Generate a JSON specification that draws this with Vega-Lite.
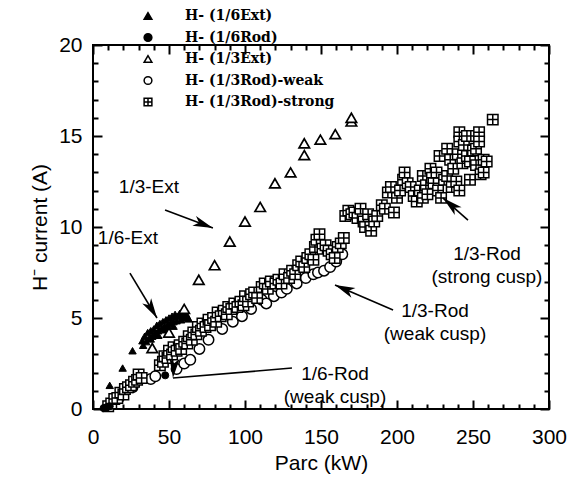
{
  "$schema": "https://vega.github.io/schema/vega-lite/v6.json",
  "width": 456,
  "height": 364,
  "autosize": {"type": "none"},
  "padding": {"left": 93, "top": 45, "right": 35, "bottom": 72},
  "background": "white",
  "config": {
    "view": {"stroke": "black", "strokeWidth": 2},
    "axis": {
      "labelFont": "Liberation Sans", "labelFontSize": 21, "labelColor": "black",
      "tickColor": "black", "tickWidth": 2, "titleFont": "Liberation Sans",
      "titleFontSize": 21, "titleFontWeight": "normal", "titleColor": "black",
      "grid": false, "domain": false, "labelFlush": false
    },
    "legend": {
      "labelFont": "DejaVu Serif", "labelFontWeight": "bold", "labelFontSize": 14,
      "labelColor": "black", "symbolStrokeWidth": 1.5,
      "symbolSize": 60, "rowPadding": 7.5, "labelOffset": 30, "padding": 0
    }
  },
  "datasets": {
    "points": [
      {"series": "H- (1/3Rod)-weak", "parc": 12, "current": 0.3},
      {"series": "H- (1/3Rod)-weak", "parc": 17, "current": 0.6},
      {"series": "H- (1/3Rod)-weak", "parc": 26, "current": 1.2},
      {"series": "H- (1/3Rod)-weak", "parc": 38, "current": 1.65},
      {"series": "H- (1/3Rod)-weak", "parc": 41, "current": 1.8},
      {"series": "H- (1/3Rod)-weak", "parc": 55, "current": 2.2},
      {"series": "H- (1/3Rod)-weak", "parc": 60, "current": 2.5},
      {"series": "H- (1/3Rod)-weak", "parc": 64, "current": 2.7},
      {"series": "H- (1/3Rod)-weak", "parc": 70, "current": 3.3},
      {"series": "H- (1/3Rod)-weak", "parc": 76, "current": 3.8},
      {"series": "H- (1/3Rod)-weak", "parc": 85, "current": 4.4},
      {"series": "H- (1/3Rod)-weak", "parc": 92, "current": 4.8},
      {"series": "H- (1/3Rod)-weak", "parc": 98, "current": 5.1},
      {"series": "H- (1/3Rod)-weak", "parc": 104, "current": 5.5},
      {"series": "H- (1/3Rod)-weak", "parc": 111, "current": 6.0},
      {"series": "H- (1/3Rod)-weak", "parc": 114, "current": 5.8},
      {"series": "H- (1/3Rod)-weak", "parc": 119, "current": 6.2},
      {"series": "H- (1/3Rod)-weak", "parc": 124, "current": 6.4},
      {"series": "H- (1/3Rod)-weak", "parc": 127.5, "current": 6.6},
      {"series": "H- (1/3Rod)-weak", "parc": 134, "current": 6.9},
      {"series": "H- (1/3Rod)-weak", "parc": 140, "current": 7.2},
      {"series": "H- (1/3Rod)-weak", "parc": 145, "current": 7.4},
      {"series": "H- (1/3Rod)-weak", "parc": 148, "current": 7.5},
      {"series": "H- (1/3Rod)-weak", "parc": 152, "current": 7.6},
      {"series": "H- (1/3Rod)-weak", "parc": 156, "current": 7.8},
      {"series": "H- (1/3Rod)-weak", "parc": 160, "current": 8.1},
      {"series": "H- (1/3Rod)-weak", "parc": 164, "current": 8.5},

      {"series": "H- (1/3Rod)-strong", "parc": 10, "current": 0.15},
      {"series": "H- (1/3Rod)-strong", "parc": 12, "current": 0.3},
      {"series": "H- (1/3Rod)-strong", "parc": 14, "current": 0.55},
      {"series": "H- (1/3Rod)-strong", "parc": 16, "current": 0.6},
      {"series": "H- (1/3Rod)-strong", "parc": 18, "current": 0.9},
      {"series": "H- (1/3Rod)-strong", "parc": 20, "current": 0.8},
      {"series": "H- (1/3Rod)-strong", "parc": 21, "current": 1.1},
      {"series": "H- (1/3Rod)-strong", "parc": 23, "current": 1.2},
      {"series": "H- (1/3Rod)-strong", "parc": 25, "current": 1.3},
      {"series": "H- (1/3Rod)-strong", "parc": 27, "current": 1.5},
      {"series": "H- (1/3Rod)-strong", "parc": 29, "current": 1.6},
      {"series": "H- (1/3Rod)-strong", "parc": 30, "current": 1.9},
      {"series": "H- (1/3Rod)-strong", "parc": 32, "current": 1.7},
      {"series": "H- (1/3Rod)-strong", "parc": 44, "current": 2.4},
      {"series": "H- (1/3Rod)-strong", "parc": 46, "current": 2.6},
      {"series": "H- (1/3Rod)-strong", "parc": 47, "current": 2.9},
      {"series": "H- (1/3Rod)-strong", "parc": 49, "current": 2.8},
      {"series": "H- (1/3Rod)-strong", "parc": 50, "current": 3.2},
      {"series": "H- (1/3Rod)-strong", "parc": 52, "current": 3.0},
      {"series": "H- (1/3Rod)-strong", "parc": 53, "current": 3.4},
      {"series": "H- (1/3Rod)-strong", "parc": 55, "current": 3.2},
      {"series": "H- (1/3Rod)-strong", "parc": 57, "current": 3.5},
      {"series": "H- (1/3Rod)-strong", "parc": 58, "current": 3.3},
      {"series": "H- (1/3Rod)-strong", "parc": 60, "current": 3.7},
      {"series": "H- (1/3Rod)-strong", "parc": 62, "current": 3.6},
      {"series": "H- (1/3Rod)-strong", "parc": 63, "current": 4.0},
      {"series": "H- (1/3Rod)-strong", "parc": 65, "current": 3.8},
      {"series": "H- (1/3Rod)-strong", "parc": 66, "current": 4.2},
      {"series": "H- (1/3Rod)-strong", "parc": 68, "current": 4.1},
      {"series": "H- (1/3Rod)-strong", "parc": 69, "current": 4.5},
      {"series": "H- (1/3Rod)-strong", "parc": 71, "current": 4.3},
      {"series": "H- (1/3Rod)-strong", "parc": 72, "current": 4.7},
      {"series": "H- (1/3Rod)-strong", "parc": 74, "current": 4.5},
      {"series": "H- (1/3Rod)-strong", "parc": 76, "current": 4.9},
      {"series": "H- (1/3Rod)-strong", "parc": 77, "current": 4.6},
      {"series": "H- (1/3Rod)-strong", "parc": 79, "current": 5.0},
      {"series": "H- (1/3Rod)-strong", "parc": 81, "current": 4.8},
      {"series": "H- (1/3Rod)-strong", "parc": 82, "current": 5.3},
      {"series": "H- (1/3Rod)-strong", "parc": 84, "current": 5.1},
      {"series": "H- (1/3Rod)-strong", "parc": 86, "current": 5.4},
      {"series": "H- (1/3Rod)-strong", "parc": 88, "current": 5.2},
      {"series": "H- (1/3Rod)-strong", "parc": 89, "current": 5.6},
      {"series": "H- (1/3Rod)-strong", "parc": 91, "current": 5.5},
      {"series": "H- (1/3Rod)-strong", "parc": 93, "current": 5.8},
      {"series": "H- (1/3Rod)-strong", "parc": 95, "current": 5.6},
      {"series": "H- (1/3Rod)-strong", "parc": 97, "current": 5.9},
      {"series": "H- (1/3Rod)-strong", "parc": 99, "current": 5.7},
      {"series": "H- (1/3Rod)-strong", "parc": 100, "current": 6.2},
      {"series": "H- (1/3Rod)-strong", "parc": 102, "current": 5.9},
      {"series": "H- (1/3Rod)-strong", "parc": 104, "current": 6.3},
      {"series": "H- (1/3Rod)-strong", "parc": 106, "current": 6.4},
      {"series": "H- (1/3Rod)-strong", "parc": 108, "current": 6.1},
      {"series": "H- (1/3Rod)-strong", "parc": 111, "current": 6.7},
      {"series": "H- (1/3Rod)-strong", "parc": 113, "current": 6.9},
      {"series": "H- (1/3Rod)-strong", "parc": 115, "current": 6.6},
      {"series": "H- (1/3Rod)-strong", "parc": 117, "current": 7.0},
      {"series": "H- (1/3Rod)-strong", "parc": 120, "current": 6.9},
      {"series": "H- (1/3Rod)-strong", "parc": 122, "current": 7.1},
      {"series": "H- (1/3Rod)-strong", "parc": 124, "current": 6.9},
      {"series": "H- (1/3Rod)-strong", "parc": 126, "current": 7.4},
      {"series": "H- (1/3Rod)-strong", "parc": 129, "current": 7.2},
      {"series": "H- (1/3Rod)-strong", "parc": 131, "current": 7.6},
      {"series": "H- (1/3Rod)-strong", "parc": 133, "current": 7.4},
      {"series": "H- (1/3Rod)-strong", "parc": 135, "current": 7.9},
      {"series": "H- (1/3Rod)-strong", "parc": 137, "current": 8.1},
      {"series": "H- (1/3Rod)-strong", "parc": 139, "current": 7.8},
      {"series": "H- (1/3Rod)-strong", "parc": 141, "current": 8.3},
      {"series": "H- (1/3Rod)-strong", "parc": 143, "current": 8.5},
      {"series": "H- (1/3Rod)-strong", "parc": 145, "current": 8.2},
      {"series": "H- (1/3Rod)-strong", "parc": 146, "current": 8.9},
      {"series": "H- (1/3Rod)-strong", "parc": 147, "current": 9.3},
      {"series": "H- (1/3Rod)-strong", "parc": 149, "current": 9.6},
      {"series": "H- (1/3Rod)-strong", "parc": 151, "current": 8.8},
      {"series": "H- (1/3Rod)-strong", "parc": 153, "current": 9.0},
      {"series": "H- (1/3Rod)-strong", "parc": 155, "current": 8.7},
      {"series": "H- (1/3Rod)-strong", "parc": 157, "current": 8.5},
      {"series": "H- (1/3Rod)-strong", "parc": 159, "current": 8.3},
      {"series": "H- (1/3Rod)-strong", "parc": 161, "current": 8.9},
      {"series": "H- (1/3Rod)-strong", "parc": 163, "current": 9.1},
      {"series": "H- (1/3Rod)-strong", "parc": 165, "current": 9.4},
      {"series": "H- (1/3Rod)-strong", "parc": 166, "current": 10.6},
      {"series": "H- (1/3Rod)-strong", "parc": 168, "current": 10.9},
      {"series": "H- (1/3Rod)-strong", "parc": 170, "current": 10.7},
      {"series": "H- (1/3Rod)-strong", "parc": 172, "current": 10.8},
      {"series": "H- (1/3Rod)-strong", "parc": 174, "current": 10.5},
      {"series": "H- (1/3Rod)-strong", "parc": 176, "current": 11.0},
      {"series": "H- (1/3Rod)-strong", "parc": 178, "current": 10.3},
      {"series": "H- (1/3Rod)-strong", "parc": 179, "current": 10.0},
      {"series": "H- (1/3Rod)-strong", "parc": 181, "current": 10.7},
      {"series": "H- (1/3Rod)-strong", "parc": 183, "current": 9.8},
      {"series": "H- (1/3Rod)-strong", "parc": 185, "current": 10.3},
      {"series": "H- (1/3Rod)-strong", "parc": 187, "current": 10.6},
      {"series": "H- (1/3Rod)-strong", "parc": 190, "current": 11.2},
      {"series": "H- (1/3Rod)-strong", "parc": 192, "current": 11.0},
      {"series": "H- (1/3Rod)-strong", "parc": 194, "current": 11.9},
      {"series": "H- (1/3Rod)-strong", "parc": 196, "current": 12.2},
      {"series": "H- (1/3Rod)-strong", "parc": 198, "current": 10.8},
      {"series": "H- (1/3Rod)-strong", "parc": 200, "current": 11.6},
      {"series": "H- (1/3Rod)-strong", "parc": 202, "current": 12.0},
      {"series": "H- (1/3Rod)-strong", "parc": 204, "current": 12.6},
      {"series": "H- (1/3Rod)-strong", "parc": 205, "current": 13.0},
      {"series": "H- (1/3Rod)-strong", "parc": 207, "current": 12.4},
      {"series": "H- (1/3Rod)-strong", "parc": 209, "current": 12.2},
      {"series": "H- (1/3Rod)-strong", "parc": 211, "current": 11.7},
      {"series": "H- (1/3Rod)-strong", "parc": 213, "current": 11.4},
      {"series": "H- (1/3Rod)-strong", "parc": 215, "current": 12.0},
      {"series": "H- (1/3Rod)-strong", "parc": 217, "current": 12.8},
      {"series": "H- (1/3Rod)-strong", "parc": 217, "current": 11.6},
      {"series": "H- (1/3Rod)-strong", "parc": 219, "current": 12.3},
      {"series": "H- (1/3Rod)-strong", "parc": 220, "current": 11.8},
      {"series": "H- (1/3Rod)-strong", "parc": 222, "current": 13.2},
      {"series": "H- (1/3Rod)-strong", "parc": 223, "current": 12.7},
      {"series": "H- (1/3Rod)-strong", "parc": 224, "current": 12.4},
      {"series": "H- (1/3Rod)-strong", "parc": 226, "current": 13.0},
      {"series": "H- (1/3Rod)-strong", "parc": 227, "current": 12.0},
      {"series": "H- (1/3Rod)-strong", "parc": 228, "current": 13.9},
      {"series": "H- (1/3Rod)-strong", "parc": 229, "current": 11.6},
      {"series": "H- (1/3Rod)-strong", "parc": 231, "current": 12.6},
      {"series": "H- (1/3Rod)-strong", "parc": 233, "current": 14.3},
      {"series": "H- (1/3Rod)-strong", "parc": 233, "current": 12.8},
      {"series": "H- (1/3Rod)-strong", "parc": 235, "current": 13.7},
      {"series": "H- (1/3Rod)-strong", "parc": 236, "current": 12.2},
      {"series": "H- (1/3Rod)-strong", "parc": 237, "current": 13.2},
      {"series": "H- (1/3Rod)-strong", "parc": 239, "current": 12.5},
      {"series": "H- (1/3Rod)-strong", "parc": 240, "current": 14.0},
      {"series": "H- (1/3Rod)-strong", "parc": 241, "current": 15.2},
      {"series": "H- (1/3Rod)-strong", "parc": 241, "current": 14.7},
      {"series": "H- (1/3Rod)-strong", "parc": 241, "current": 12.0},
      {"series": "H- (1/3Rod)-strong", "parc": 243, "current": 13.5},
      {"series": "H- (1/3Rod)-strong", "parc": 244, "current": 14.5},
      {"series": "H- (1/3Rod)-strong", "parc": 246, "current": 15.0},
      {"series": "H- (1/3Rod)-strong", "parc": 246, "current": 13.9},
      {"series": "H- (1/3Rod)-strong", "parc": 248, "current": 13.6},
      {"series": "H- (1/3Rod)-strong", "parc": 248, "current": 12.6},
      {"series": "H- (1/3Rod)-strong", "parc": 250, "current": 14.2},
      {"series": "H- (1/3Rod)-strong", "parc": 252, "current": 15.0},
      {"series": "H- (1/3Rod)-strong", "parc": 252, "current": 14.3},
      {"series": "H- (1/3Rod)-strong", "parc": 252, "current": 13.4},
      {"series": "H- (1/3Rod)-strong", "parc": 254, "current": 15.2},
      {"series": "H- (1/3Rod)-strong", "parc": 254, "current": 14.7},
      {"series": "H- (1/3Rod)-strong", "parc": 255, "current": 12.9},
      {"series": "H- (1/3Rod)-strong", "parc": 257, "current": 13.7},
      {"series": "H- (1/3Rod)-strong", "parc": 257, "current": 13.0},
      {"series": "H- (1/3Rod)-strong", "parc": 259, "current": 13.6},
      {"series": "H- (1/3Rod)-strong", "parc": 263, "current": 15.9},

      {"series": "H- (1/6Ext)", "parc": 11, "current": 1.3},
      {"series": "H- (1/6Ext)", "parc": 19.5, "current": 2.25},
      {"series": "H- (1/6Ext)", "parc": 26, "current": 3.2},
      {"series": "H- (1/6Ext)", "parc": 32.5, "current": 3.75},
      {"series": "H- (1/6Ext)", "parc": 33, "current": 3.5},
      {"series": "H- (1/6Ext)", "parc": 34, "current": 4.0},
      {"series": "H- (1/6Ext)", "parc": 35, "current": 3.7},
      {"series": "H- (1/6Ext)", "parc": 36, "current": 4.2},
      {"series": "H- (1/6Ext)", "parc": 37, "current": 3.9},
      {"series": "H- (1/6Ext)", "parc": 38, "current": 4.3},
      {"series": "H- (1/6Ext)", "parc": 39, "current": 4.0},
      {"series": "H- (1/6Ext)", "parc": 40, "current": 4.4},
      {"series": "H- (1/6Ext)", "parc": 41, "current": 4.1},
      {"series": "H- (1/6Ext)", "parc": 42, "current": 4.6},
      {"series": "H- (1/6Ext)", "parc": 43, "current": 4.3},
      {"series": "H- (1/6Ext)", "parc": 44, "current": 4.7},
      {"series": "H- (1/6Ext)", "parc": 45, "current": 4.4},
      {"series": "H- (1/6Ext)", "parc": 46, "current": 4.8},
      {"series": "H- (1/6Ext)", "parc": 47, "current": 4.5},
      {"series": "H- (1/6Ext)", "parc": 48, "current": 4.9},
      {"series": "H- (1/6Ext)", "parc": 49, "current": 4.6},
      {"series": "H- (1/6Ext)", "parc": 50, "current": 5.0},
      {"series": "H- (1/6Ext)", "parc": 51, "current": 4.7},
      {"series": "H- (1/6Ext)", "parc": 52, "current": 5.1},
      {"series": "H- (1/6Ext)", "parc": 53, "current": 4.8},
      {"series": "H- (1/6Ext)", "parc": 54, "current": 5.2},
      {"series": "H- (1/6Ext)", "parc": 55, "current": 4.85},
      {"series": "H- (1/6Ext)", "parc": 56, "current": 5.1},
      {"series": "H- (1/6Ext)", "parc": 57, "current": 5.25},
      {"series": "H- (1/6Ext)", "parc": 58, "current": 4.9},
      {"series": "H- (1/6Ext)", "parc": 59, "current": 5.15},
      {"series": "H- (1/6Ext)", "parc": 60, "current": 5.0},
      {"series": "H- (1/6Ext)", "parc": 61, "current": 5.25},
      {"series": "H- (1/6Ext)", "parc": 62, "current": 5.1},
      {"series": "H- (1/6Ext)", "parc": 63, "current": 4.95},
      {"series": "H- (1/6Ext)", "parc": 38, "current": 3.85},
      {"series": "H- (1/6Ext)", "parc": 43, "current": 4.05},
      {"series": "H- (1/6Ext)", "parc": 48, "current": 4.35},
      {"series": "H- (1/6Ext)", "parc": 53, "current": 4.55},

      {"series": "H- (1/3Ext)", "parc": 39, "current": 3.35},
      {"series": "H- (1/3Ext)", "parc": 50, "current": 4.2},
      {"series": "H- (1/3Ext)", "parc": 60, "current": 5.5},
      {"series": "H- (1/3Ext)", "parc": 69.6, "current": 7.1},
      {"series": "H- (1/3Ext)", "parc": 80, "current": 7.9},
      {"series": "H- (1/3Ext)", "parc": 90, "current": 9.2},
      {"series": "H- (1/3Ext)", "parc": 100, "current": 10.3},
      {"series": "H- (1/3Ext)", "parc": 110, "current": 11.1},
      {"series": "H- (1/3Ext)", "parc": 119.7, "current": 12.4},
      {"series": "H- (1/3Ext)", "parc": 130, "current": 13.0},
      {"series": "H- (1/3Ext)", "parc": 139, "current": 13.95},
      {"series": "H- (1/3Ext)", "parc": 139, "current": 14.6},
      {"series": "H- (1/3Ext)", "parc": 149.6, "current": 14.8},
      {"series": "H- (1/3Ext)", "parc": 159.4, "current": 15.1},
      {"series": "H- (1/3Ext)", "parc": 170, "current": 15.8},
      {"series": "H- (1/3Ext)", "parc": 170, "current": 16.0},

      {"series": "H- (1/6Rod)", "parc": 7, "current": 0.05},
      {"series": "H- (1/6Rod)", "parc": 9, "current": 0.1},
      {"series": "H- (1/6Rod)", "parc": 11, "current": 0.15},
      {"series": "H- (1/6Rod)", "parc": 47.5, "current": 1.85}
    ],
    "arrows": [
      {"arrow": "a1", "parc": 24.3, "current": 7.47, "parc_end": 42.1, "current_end": 5.0},
      {"arrow": "a2", "parc": 47.4, "current": 10.93, "parc_end": 78.9, "current_end": 9.95},
      {"arrow": "a3", "parc": 246.7, "current": 10.38, "parc_end": 230.3, "current_end": 11.59},
      {"arrow": "a4", "parc": 197.4, "current": 5.44, "parc_end": 159.2, "current_end": 6.81},
      {"arrow": "a5", "parc": 130.9, "current": 2.25, "parc_end": 52.6, "current_end": 1.7}
    ],
    "labels": [
      {"parc": 23.0, "current": 9.4, "text": "1/6-Ext"},
      {"parc": 36.8, "current": 12.2, "text": "1/3-Ext"},
      {"parc": 259.2, "current": 8.54, "text": "1/3-Rod\n(strong cusp)"},
      {"parc": 225.0, "current": 5.36, "text": "1/3-Rod\n(weak cusp)"},
      {"parc": 159.2, "current": 1.92, "text": "1/6-Rod\n(weak cusp)"}
    ]
  },
  "resolve": {"axis": {"x": "independent", "y": "independent"}},
  "layer": [
    {
      "data": {"name": "points"},
      "transform": [{"filter": "datum.series === 'H- (1/3Rod)-weak'"}],
      "mark": {"type": "point", "filled": true, "strokeWidth": 1.5, "size": 110, "opacity": 1},
      "encoding": {
        "x": {"field": "parc", "type": "quantitative",
          "scale": {"domain": [0, 300], "nice": false},
          "axis": {"orient": "bottom", "values": [0, 50, 100, 150, 200, 250, 300], "tickSize": -9, "labelPadding": 26, "title": "Parc (kW)", "titlePadding": 5}},
        "y": {"field": "current", "type": "quantitative",
          "scale": {"domain": [0, 20], "nice": false},
          "axis": {"orient": "left", "values": [0, 5, 10, 15, 20], "tickSize": -9, "labelPadding": 20, "title": "H⁻ current  (A)", "titlePadding": 8}},
        "shape": {"field": "series", "type": "nominal",
          "scale": {"domain": ["H- (1/6Ext)", "H- (1/6Rod)", "H- (1/3Ext)", "H- (1/3Rod)-weak", "H- (1/3Rod)-strong"],
            "range": ["triangle-up", "circle", "triangle-up", "circle", "M-1,-1H1V1H-1Z M0,-1V1 M-1,0H1"]},
          "legend": {"orient": "none", "legendX": 48, "legendY": -36, "title": null}},
        "fill": {"field": "series", "type": "nominal",
          "scale": {"domain": ["H- (1/6Ext)", "H- (1/6Rod)", "H- (1/3Ext)", "H- (1/3Rod)-weak", "H- (1/3Rod)-strong"],
            "range": ["black", "black", "white", "white", "white"]},
          "legend": {"orient": "none", "legendX": 48, "legendY": -36, "title": null}},
        "stroke": {"field": "series", "type": "nominal",
          "scale": {"domain": ["H- (1/6Ext)", "H- (1/6Rod)", "H- (1/3Ext)", "H- (1/3Rod)-weak", "H- (1/3Rod)-strong"],
            "range": ["black", "black", "black", "black", "black"]},
          "legend": {"orient": "none", "legendX": 48, "legendY": -36, "title": null}}
      }
    },
    {
      "data": {"name": "points"},
      "transform": [{"filter": "datum.series === 'H- (1/3Rod)-strong'"}],
      "mark": {"type": "point", "filled": true, "strokeWidth": 1.5, "size": 110, "opacity": 1},
      "encoding": {
        "x": {"field": "parc", "type": "quantitative",
          "axis": {"orient": "bottom", "values": [10, 20, 30, 40, 60, 70, 80, 90, 110, 120, 130, 140, 160, 170, 180, 190, 210, 220, 230, 240, 260, 270, 280, 290], "tickSize": -5, "labels": false, "title": null}},
        "y": {"field": "current", "type": "quantitative",
          "axis": {"orient": "left", "values": [1, 2, 3, 4, 6, 7, 8, 9, 11, 12, 13, 14, 16, 17, 18, 19], "tickSize": -5, "labels": false, "title": null}},
        "shape": {"field": "series", "type": "nominal"},
        "fill": {"field": "series", "type": "nominal"},
        "stroke": {"field": "series", "type": "nominal"}
      }
    },
    {
      "data": {"name": "points"},
      "transform": [{"filter": "datum.series === 'H- (1/6Ext)'"}],
      "mark": {"type": "point", "filled": true, "strokeWidth": 1, "size": 55, "opacity": 1},
      "encoding": {
        "x": {"field": "parc", "type": "quantitative",
          "axis": {"orient": "top", "values": [0, 50, 100, 150, 200, 250, 300], "tickSize": -9, "labels": false, "title": null}},
        "y": {"field": "current", "type": "quantitative",
          "axis": {"orient": "right", "values": [0, 5, 10, 15, 20], "tickSize": -9, "labels": false, "title": null}},
        "shape": {"field": "series", "type": "nominal"},
        "fill": {"field": "series", "type": "nominal"},
        "stroke": {"field": "series", "type": "nominal"}
      }
    },
    {
      "data": {"name": "points"},
      "transform": [{"filter": "datum.series === 'H- (1/3Ext)'"}],
      "mark": {"type": "point", "filled": true, "strokeWidth": 1.7, "size": 110, "opacity": 1},
      "encoding": {
        "x": {"field": "parc", "type": "quantitative",
          "axis": {"orient": "top", "values": [10, 20, 30, 40, 60, 70, 80, 90, 110, 120, 130, 140, 160, 170, 180, 190, 210, 220, 230, 240, 260, 270, 280, 290], "tickSize": -5, "labels": false, "title": null}},
        "y": {"field": "current", "type": "quantitative",
          "axis": {"orient": "right", "values": [1, 2, 3, 4, 6, 7, 8, 9, 11, 12, 13, 14, 16, 17, 18, 19], "tickSize": -5, "labels": false, "title": null}},
        "shape": {"field": "series", "type": "nominal"},
        "fill": {"field": "series", "type": "nominal"},
        "stroke": {"field": "series", "type": "nominal"}
      }
    },
    {
      "data": {"name": "points"},
      "transform": [{"filter": "datum.series === 'H- (1/6Rod)'"}],
      "mark": {"type": "point", "filled": true, "strokeWidth": 1, "size": 50, "opacity": 1},
      "encoding": {
        "x": {"field": "parc", "type": "quantitative", "axis": null},
        "y": {"field": "current", "type": "quantitative", "axis": null},
        "shape": {"field": "series", "type": "nominal"},
        "fill": {"field": "series", "type": "nominal"},
        "stroke": {"field": "series", "type": "nominal"}
      }
    },
    {
      "data": {"name": "arrows"},
      "mark": {"type": "rule", "color": "black", "strokeWidth": 1.6},
      "encoding": {
        "x": {"field": "parc", "type": "quantitative", "axis": null},
        "y": {"field": "current", "type": "quantitative", "axis": null},
        "x2": {"field": "parc_end"},
        "y2": {"field": "current_end"}
      }
    },
    {
      "data": {"name": "arrows"},
      "transform": [{"filter": "datum.arrow === 'a1'"}],
      "mark": {"type": "point", "shape": "M0,0L-0.7,2.7L0,2L0.7,2.7Z", "filled": true, "color": "black", "opacity": 1, "size": 220, "angle": 149},
      "encoding": {
        "x": {"field": "parc_end", "type": "quantitative", "axis": null},
        "y": {"field": "current_end", "type": "quantitative", "axis": null}
      }
    },
    {
      "data": {"name": "arrows"},
      "transform": [{"filter": "datum.arrow === 'a2'"}],
      "mark": {"type": "point", "shape": "M0,0L-0.7,2.7L0,2L0.7,2.7Z", "filled": true, "color": "black", "opacity": 1, "size": 220, "angle": 110.6},
      "encoding": {
        "x": {"field": "parc_end", "type": "quantitative", "axis": null},
        "y": {"field": "current_end", "type": "quantitative", "axis": null}
      }
    },
    {
      "data": {"name": "arrows"},
      "transform": [{"filter": "datum.arrow === 'a3'"}],
      "mark": {"type": "point", "shape": "M0,0L-0.7,2.7L0,2L0.7,2.7Z", "filled": true, "color": "black", "opacity": 1, "size": 220, "angle": 311},
      "encoding": {
        "x": {"field": "parc_end", "type": "quantitative", "axis": null},
        "y": {"field": "current_end", "type": "quantitative", "axis": null}
      }
    },
    {
      "data": {"name": "arrows"},
      "transform": [{"filter": "datum.arrow === 'a4'"}],
      "mark": {"type": "point", "shape": "M0,0L-0.7,2.7L0,2L0.7,2.7Z", "filled": true, "color": "black", "opacity": 1, "size": 220, "angle": 293},
      "encoding": {
        "x": {"field": "parc_end", "type": "quantitative", "axis": null},
        "y": {"field": "current_end", "type": "quantitative", "axis": null}
      }
    },
    {
      "data": {"name": "arrows"},
      "transform": [{"filter": "datum.arrow === 'a5'"}],
      "mark": {"type": "point", "shape": "M0,0L-0.7,2.7L0,2L0.7,2.7Z", "filled": true, "color": "black", "opacity": 1, "size": 220, "angle": 184.8},
      "encoding": {
        "x": {"field": "parc_end", "type": "quantitative", "axis": null},
        "y": {"field": "current_end", "type": "quantitative", "axis": null}
      }
    },
    {
      "data": {"name": "labels"},
      "mark": {"type": "text", "font": "Liberation Sans", "fontSize": 19, "color": "black", "align": "center", "baseline": "middle", "lineBreak": "\n", "lineHeight": 23},
      "encoding": {
        "x": {"field": "parc", "type": "quantitative", "axis": null},
        "y": {"field": "current", "type": "quantitative", "axis": null},
        "text": {"field": "text"}
      }
    }
  ]
}
